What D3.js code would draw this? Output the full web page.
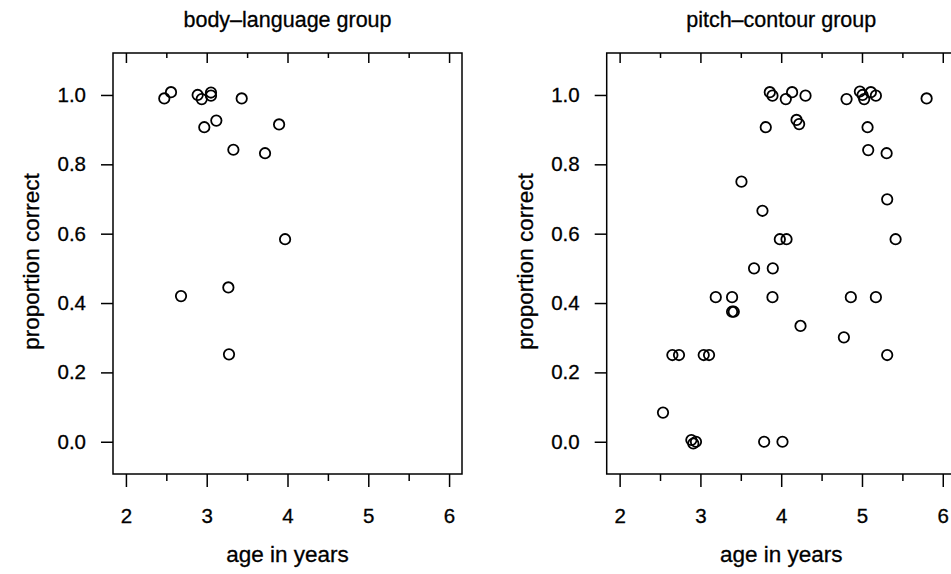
<!DOCTYPE html>
<html>
<head>
<meta charset="utf-8">
<script src="https://cdn.jsdelivr.net/npm/d3@7"></script>
<style>
  body { margin: 0; background: #fff; }
  svg text { font-family: "Liberation Sans", Arial, Helvetica, sans-serif; fill: #000; stroke: #000; stroke-width: 0.3px; }
</style>
</head>
<body>
<div id="graph"></div>
<script>
// data
const bodyAge  = [2.475, 2.558, 2.888, 2.938, 3.053, 3.053, 3.433, 2.970, 3.119, 3.896, 3.330, 3.722, 3.970, 3.268, 2.682, 3.276];
const bodyProp = [0.990, 1.008, 1.000, 0.988, 1.007, 0.998, 0.990, 0.907, 0.926, 0.915, 0.842, 0.832, 0.584, 0.445, 0.420, 0.252];

const pitchAge  = [3.859, 3.892, 4.057, 4.135, 4.301, 4.809, 4.974, 5.007, 5.027, 5.110, 5.172, 5.800,
                   3.809, 4.190, 4.222, 5.069, 5.077, 5.305, 3.508, 5.312, 3.768, 3.983, 4.066, 5.416,
                   3.664, 3.896, 3.190, 3.392, 3.892, 4.862, 5.172, 3.392, 3.413, 4.239, 4.776,
                   2.653, 2.735, 3.041, 3.107, 5.312, 2.537, 2.888, 2.912, 2.945, 3.789, 4.016];
const pitchProp = [1.008, 0.998, 0.988, 1.008, 0.998, 0.988, 1.010, 1.000, 0.988, 1.008, 0.998, 0.990,
                   0.907, 0.928, 0.916, 0.907, 0.841, 0.832, 0.750, 0.699, 0.666, 0.584, 0.584, 0.584,
                   0.500, 0.500, 0.417, 0.417, 0.417, 0.417, 0.417, 0.375, 0.375, 0.334, 0.301,
                   0.250, 0.250, 0.250, 0.250, 0.250, 0.084, 0.005, -0.005, 0.000, 0.000, 0.000];

const panelTitles = ["body\u2013language group", "pitch\u2013contour group"];
const xMajor = [2, 3, 4, 5, 6];
const xMinor = [2.5, 3.5, 4.5, 5.5];
const yTicks = [0, 0.2, 0.4, 0.6, 0.8, 1.0];
const xLabel = "age in years";
const yLabel = "proportion correct";

const width = 951, height = 574;
const pw = 349, ph = 421;   // plot box size
const panels = [
    {left: 113,   top: 53, title: panelTitles[0], xs: bodyAge,  ys: bodyProp},
    {left: 606.7, top: 53, title: panelTitles[1], xs: pitchAge, ys: pitchProp}
];

const svg = d3.select("#graph").append("svg")
    .attr("width", width)
    .attr("height", height);

const xScale = d3.scaleLinear().domain([1.84, 6.16]).range([0, pw]);
const yScale = d3.scaleLinear().domain([-0.093, 1.121]).range([ph, 0]);

panels.forEach(p => {
    const g = svg.append("g").attr("transform", `translate(${p.left},${p.top})`);

    // box
    g.append("rect")
        .attr("width", pw).attr("height", ph)
        .attr("fill", "none").attr("stroke", "#000").attr("stroke-width", 1.5);

    // bottom axis, major + minor ticks
    g.append("g").attr("transform", `translate(0,${ph})`)
        .call(d3.axisBottom(xScale).tickValues(xMajor).tickSize(13).tickSizeOuter(0).tickPadding(21)
            .tickFormat(d3.format("d")));
    g.append("g").attr("transform", `translate(0,${ph})`)
        .call(d3.axisBottom(xScale).tickValues(xMinor).tickSize(7).tickSizeOuter(0).tickFormat(""));
    // top inward ticks
    g.append("g").call(d3.axisTop(xScale).tickValues(xMajor).tickSize(-10).tickSizeOuter(0).tickFormat(""));
    g.append("g").call(d3.axisTop(xScale).tickValues(xMinor).tickSize(-5).tickSizeOuter(0).tickFormat(""));

    // left axis
    g.append("g")
        .call(d3.axisLeft(yScale).tickValues(yTicks).tickSize(12).tickSizeOuter(0).tickPadding(15)
            .tickFormat(d3.format(".1f")));

    g.selectAll(".domain").remove();
    g.selectAll(".tick line").attr("stroke", "#000").attr("stroke-width", 1.5);
    g.selectAll(".tick text").style("font-size", "20.5px").attr("fill", "#000");

    // points
    g.selectAll("circle.pt")
        .data(d3.range(p.xs.length))
        .join("circle")
        .attr("class", "pt")
        .attr("cx", i => xScale(p.xs[i]))
        .attr("cy", i => yScale(p.ys[i]))
        .attr("r", 5.2)
        .attr("fill", "none")
        .attr("stroke", "#000")
        .attr("stroke-width", 1.8);

    // titles
    g.append("text")
        .attr("x", pw / 2).attr("y", 26.5 - p.top)
        .attr("text-anchor", "middle")
        .style("font-size", "21.5px")
        .text(p.title);

    g.append("text")
        .attr("x", pw / 2).attr("y", 561.7 - p.top)
        .attr("text-anchor", "middle")
        .style("font-size", "22.5px")
        .text(xLabel);

    g.append("text")
        .attr("transform", `translate(${39 - 113},${ph / 2 - 2}) rotate(-90)`)
        .attr("text-anchor", "middle")
        .style("font-size", "22.5px")
        .text(yLabel);
});
</script>
</body>
</html>
